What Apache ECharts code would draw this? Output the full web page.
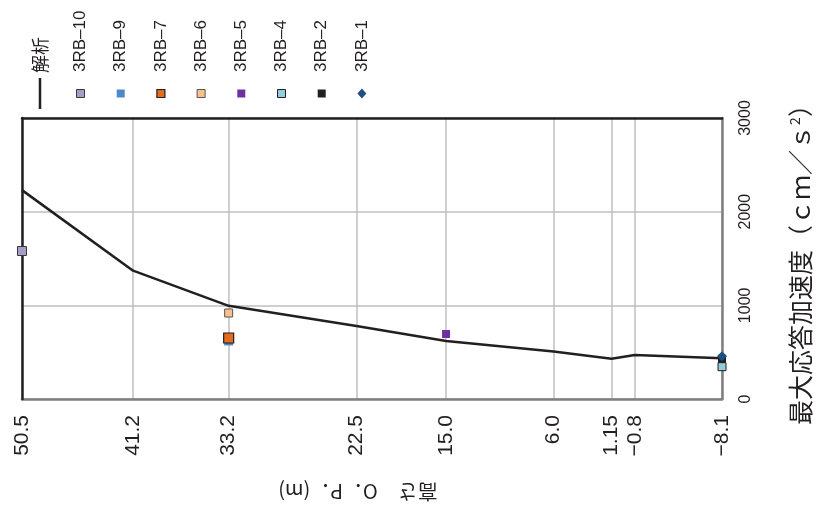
<!DOCTYPE html>
<html>
<head>
<meta charset="utf-8">
<script src="https://cdn.jsdelivr.net/npm/echarts@6/dist/echarts.min.js"></script>
<style>html,body{margin:0;padding:0;background:#fff}#c{width:817px;height:515px}</style>
</head>
<body>
<div id="c"></div>
<script>
// ---- data ----
const elevValues = [50.5, 41.2, 33.2, 22.5, 15.0, 6.0, 1.15, -0.8, -8.1];
const elevLabels = ['50.5', '41.2', '33.2', '22.5', '15.0', '6.0', '1.15', '\u22120.8', '\u22128.1'];
const accTicks = [0, 1000, 2000, 3000];
const analysisName = '解析';
const analysisValues = [2230, 1370, 995, 779, 619, 508, 430, 470, 435];
const obsNames = ['3RB-10', '3RB-9', '3RB-7', '3RB-6', '3RB-5', '3RB-4', '3RB-2', '3RB-1'];
const obsElev = [50.5, 33.2, 33.2, 33.2, 15.0, -8.1, -8.1, -8.1];
const obsValues = [1580, 620, 651, 918, 694, 345, 430, 457];
const xTitle = '高さ\u3000O．P．(m)';
const yTitle = '最大応答加速度（ｃｍ／ｓ{sup|2}）';

// ---- styles ----
const obsStyles = [
  {color: '#a99bc9', border: '#3a3a3a', bw: 1, size: 9, symbol: 'rect'},
  {color: '#4f88c8', border: null, bw: 0, size: 9, symbol: 'rect'},
  {color: '#e36c1f', border: '#231f20', bw: 1.2, size: 10, symbol: 'rect'},
  {color: '#fbc08f', border: '#555555', bw: 1, size: 8, symbol: 'rect'},
  {color: '#7030a0', border: null, bw: 0, size: 8, symbol: 'rect'},
  {color: '#92cddc', border: '#231f20', bw: 1, size: 8, symbol: 'rect'},
  {color: '#231f20', border: null, bw: 0, size: 8, symbol: 'rect'},
  {color: '#1f4e80', border: null, bw: 0, size: 10, symbol: 'diamond'}
];

const chart = echarts.init(document.getElementById('c'), null, {renderer: 'canvas'});
const labelOf = v => {
  let best = 0, bd = Infinity;
  elevValues.forEach((e, i) => { const d = Math.abs(e - v); if (d < bd) { bd = d; best = i; } });
  return elevLabels[best];
};

const series = [{
  name: analysisName,
  type: 'line',
  data: elevValues.map((e, i) => [e, analysisValues[i]]),
  showSymbol: false,
  symbol: 'none',
  lineStyle: {color: '#231f20', width: 2.5},
  z: 3,
  animation: false
}];
obsNames.forEach((n, i) => {
  const s = obsStyles[i];
  series.push({
    name: n,
    type: 'scatter',
    data: [[obsElev[i], obsValues[i]]],
    symbol: s.symbol,
    symbolSize: s.size,
    itemStyle: {color: s.color, borderColor: s.border || s.color, borderWidth: s.bw, opacity: 1},
    z: 4 + i,
    clip: false,
    animation: false
  });
});

// legend via graphics (rotated text, reading bottom-to-top)
const graphics = [];
graphics.push({type: 'line', shape: {x1: 40, y1: 78, x2: 40, y2: 109}, style: {stroke: '#231f20', lineWidth: 2.5}});
graphics.push({type: 'text', x: 40, y: 73, rotation: Math.PI / 2,
  style: {text: analysisName, font: '18px "Noto Sans CJK JP"', fill: '#231f20', align: 'left', verticalAlign: 'middle'}});
obsNames.forEach((n, i) => {
  const s = obsStyles[i];
  const cx = 80.5 + i * 40.2;
  const cy = 93.5;
  if (s.symbol === 'diamond') {
    graphics.push({type: 'polygon', shape: {points: [[cx, cy - 5], [cx + 4.5, cy], [cx, cy + 5], [cx - 4.5, cy]]},
      style: {fill: s.color}});
  } else {
    const sz = 8;
    graphics.push({type: 'rect', shape: {x: cx - sz / 2, y: cy - sz / 2, width: sz, height: sz},
      style: {fill: s.color, stroke: s.border || null, lineWidth: s.bw}});
  }
  graphics.push({type: 'text', x: cx, y: 72, rotation: Math.PI / 2,
    style: {text: n.replace('-', '\u2013'), font: '17px "Liberation Sans", Arial, sans-serif', fill: '#231f20', align: 'left', verticalAlign: 'middle'}});
});
graphics.push({type: 'text', x: 358, y: 492, rotation: Math.PI,
  style: {text: xTitle, font: '20px "Noto Sans CJK JP"', fill: '#231f20', align: 'center', verticalAlign: 'middle'}});

const xRange = {min: -8.1, max: 50.5, inverse: true};
const yRange = {min: accTicks[0], max: accTicks[accTicks.length - 1], interval: 1000};

chart.setOption({
  animation: false,
  backgroundColor: '#ffffff',
  grid: {left: 22, right: 95, top: 118, bottom: 116, containLabel: false, outerBoundsMode: 'none'},
  xAxis: [{
    type: 'value', ...xRange,
    position: 'bottom',
    axisLine: {show: true, onZero: false, lineStyle: {color: '#7f7f7f', width: 2.5}},
    axisTick: {show: false, customValues: elevValues},
    axisLabel: {
      customValues: elevValues,
      rotate: 90,
      margin: 16,
      formatter: v => labelOf(v),
      fontFamily: '"Liberation Sans", Arial, sans-serif',
      fontSize: 21,
      color: '#231f20',
      hideOverlap: false,
      showMinLabel: true, showMaxLabel: true
    },
    splitLine: {show: true, lineStyle: {color: '#bfbfbf', width: 1.5}},
    z: 2
  }, {
    type: 'value', ...xRange,
    position: 'top',
    axisLine: {show: true, onZero: false, lineStyle: {color: '#231f20', width: 2.5}},
    axisTick: {show: false}, axisLabel: {show: false}, splitLine: {show: false},
    z: 3
  }],
  yAxis: [{
    type: 'value', ...yRange,
    position: 'right',
    axisLine: {show: true, onZero: false, lineStyle: {color: '#7f7f7f', width: 2.5}},
    axisTick: {show: false},
    axisLabel: {rotate: 90, margin: 16, fontFamily: '"Liberation Sans", Arial, sans-serif', fontSize: 16, color: '#231f20',
      formatter: v => String(v), showMinLabel: true, showMaxLabel: true},
    splitLine: {show: true, lineStyle: {color: '#bfbfbf', width: 1.5}},
    name: yTitle,
    nameLocation: 'middle',
    nameRotate: 90,
    nameGap: 66,
    nameTextStyle: {fontFamily: '"Noto Sans CJK JP"', fontSize: 25, color: '#231f20',
      rich: {sup: {fontSize: 14, verticalAlign: 'top', fontFamily: '"Noto Sans CJK JP"', padding: [0, 0, 8, 0]}}},
    z: 2
  }, {
    type: 'value', ...yRange,
    position: 'left',
    axisLine: {show: true, onZero: false, lineStyle: {color: '#231f20', width: 2.5}},
    axisTick: {show: false}, axisLabel: {show: false}, splitLine: {show: false},
    z: 3
  }],
  series: series,
  graphic: graphics
});
</script>
</body>
</html>
